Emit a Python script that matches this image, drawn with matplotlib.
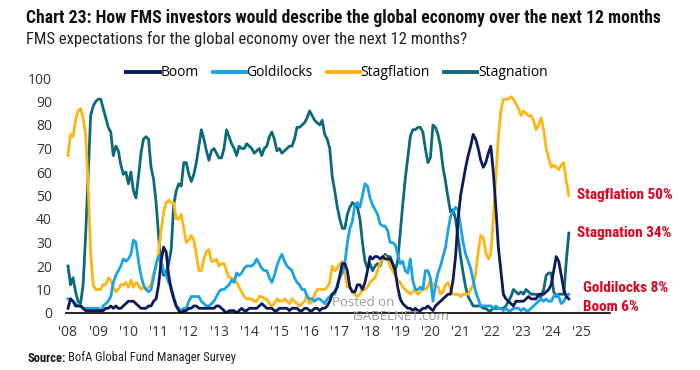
import matplotlib
matplotlib.use("Agg")
import matplotlib.pyplot as plt
import numpy as np
from matplotlib import font_manager

# monthly FMS readings (%), Jan 2008 .. Aug 2024
boom = [
    2, 6, 5, 3, 3, 3, 2, 1, 1, 1, 1, 1,
    1, 1, 1, 2, 2, 3, 2, 3, 2, 2, 3, 4,
    5, 5, 5, 4, 3, 2, 2, 2, 3, 3, 5, 6,
    12, 22, 28, 26, 16, 10, 6, 3, 1, 0, 1, 1,
    2, 2, 3, 3, 2, 2, 2, 2, 2, 2, 2, 3,
    3, 2, 1, 0, 1, 1, 1, 0, 1, 2, 1, 1,
    2, 2, 2, 2, 3, 4, 3, 2, 2, 2, 1, 1,
    2, 2, 2, 2, 1, 2, 2, 2, 1, 1, 2, 2,
    1, 1, 2, 2, 1, 2, 2, 3, 5, 8, 9, 11,
    16, 21, 21, 18, 11, 9, 9, 12, 12, 10, 13, 18,
    24, 23, 24, 24, 23, 24, 23, 23, 23, 21, 18, 11,
    6, 4, 3, 2, 2, 1, 2, 1, 1, 2, 2, 3,
    2, 1, 3, 4, 5, 6, 7, 8, 8, 14, 24, 40,
    50, 56, 62, 67, 71, 76, 74, 70, 65, 62, 64, 68,
    71, 60, 45, 28, 18, 8, 6, 5, 4, 3, 5, 5,
    5, 5, 6, 7, 6, 6, 6, 8, 8, 8, 9, 10,
    12, 18, 24, 22, 16, 10, 7, 6,
]
goldilocks = [
    6, 6, 5, 4, 3, 3, 2, 2, 2, 2, 2, 2,
    2, 1, 3, 4, 5, 7, 13, 16, 18, 20, 23, 22,
    23, 25, 31, 30, 22, 16, 12, 10, 9, 10, 15, 21,
    24, 22, 18, 16, 13, 11, 7, 3, 2, 1, 2, 2,
    5, 7, 7, 7, 7, 5, 4, 3, 3, 4, 5, 7,
    9, 10, 10, 11, 12, 14, 13, 17, 16, 17, 19, 20,
    20, 20, 21, 23, 21, 19, 18, 18, 15, 13, 16, 20,
    23, 25, 22, 20, 19, 18, 15, 13, 12, 10, 10, 7,
    6, 6, 5, 6, 6, 5, 4, 6, 7, 8, 8, 12,
    15, 17, 21, 30, 36, 39, 46, 47, 45, 50, 55, 54,
    49, 46, 44, 42, 38, 37, 37, 35, 30, 30, 29, 25,
    21, 22, 18, 17, 23, 14, 10, 10, 11, 10, 18, 18,
    15, 5, 12, 17, 20, 24, 28, 35, 41, 43, 45, 44,
    37, 30, 25, 22, 19, 14, 9, 6, 3, 3, 3, 3,
    3, 2, 3, 2, 2, 1, 2, 1, 1, 2, 2, 2,
    1, 2, 1, 1, 2, 3, 4, 5, 6, 5, 6, 5,
    5, 7, 8, 7, 4, 5, 7, 8,
]
stagflation = [
    67, 76, 75, 82, 86, 87, 83, 76, 55, 25, 12, 10,
    10, 10, 12, 12, 15, 14, 11, 9, 10, 12, 12, 13,
    11, 14, 11, 13, 12, 10, 11, 10, 11, 12, 17, 19,
    26, 35, 43, 47, 48, 47, 47, 40, 40, 42, 36, 30,
    31, 33, 31, 25, 18, 18, 23, 26, 27, 22, 22, 23,
    20, 21, 21, 18, 15, 15, 14, 13, 11, 9, 7, 6,
    6, 6, 5, 5, 7, 7, 6, 6, 4, 3, 4, 6,
    5, 5, 6, 5, 4, 6, 5, 4, 3, 4, 5, 8,
    4, 5, 8, 10, 10, 10, 10, 11, 13, 20, 18, 19,
    21, 22, 17, 11, 11, 9, 8, 7, 8, 10, 10, 11,
    13, 14, 15, 18, 21, 23, 24, 23, 20, 18, 16, 14,
    13, 11, 10, 9, 8, 9, 10, 8, 9, 11, 10, 11,
    14, 12, 12, 11, 8, 9, 12, 13, 10, 8, 8, 8,
    7, 8, 8, 8, 10, 12, 17, 26, 33, 32, 26, 23,
    25, 40, 58, 75, 86, 91, 91, 91, 92, 91, 89, 87,
    84, 86, 85, 84, 84, 82, 78, 80, 83, 78, 70, 66,
    62, 63, 62, 61, 63, 64, 56, 50,
]
stagnation = [
    20, 12, 15, 9, 5, 4, 12, 33, 58, 84, 88, 90,
    91, 91, 87, 83, 79, 77, 67, 71, 69, 63, 59, 60,
    55, 60, 52, 49, 58, 68, 74, 75, 74, 62, 57, 47,
    33, 20, 16, 17, 21, 27, 46, 52, 55, 54, 64, 64,
    59, 56, 59, 64, 71, 78, 74, 69, 65, 69, 70, 68,
    66, 66, 70, 78, 75, 72, 70, 67, 71, 70, 70, 72,
    71, 70, 68, 69, 70, 67, 70, 71, 75, 77, 74, 69,
    70, 68, 69, 70, 71, 71, 74, 79, 79, 80, 81, 83,
    86, 84, 82, 81, 80, 82, 76, 74, 70, 58, 52, 45,
    40, 36, 36, 42, 45, 47, 46, 45, 40, 30, 22, 19,
    21, 18, 20, 21, 20, 23, 25, 24, 24, 21, 18, 22,
    34, 46, 57, 66, 75, 78, 78, 79, 79, 77, 70, 64,
    66, 80, 79, 76, 71, 62, 56, 49, 43, 44, 40, 32,
    24, 17, 11, 7, 5, 3, 3, 3, 3, 2, 2, 1,
    1, 2, 2, 2, 2, 2, 3, 5, 7, 10, 9, 8,
    9, 8, 10, 9, 8, 8, 8, 7, 7, 10, 16, 17,
    17, 9, 7, 8, 8, 8, 22, 34,
]

series_names = ["Boom", "Goldilocks", "Stagflation", "Stagnation"]
series_colors = ["#0b1a5c", "#19a3e6", "#ffb612", "#0a6a7b"]
end_names = ["Boom", "Goldilocks", "Stagflation", "Stagnation"]
year_ticks = list(range(2008, 2026))
year_labels = ["'%02d" % (y % 100) for y in year_ticks]
y_ticks = list(range(0, 101, 10))
start_year = 2008

names = {f.name for f in font_manager.fontManager.ttflist}
body_font = "Open Sans" if "Open Sans" in names else "DejaVu Sans"
cond_font = body_font
for cand in ["Liberation Sans Narrow", "Roboto Condensed", "Open Sans Condensed"]:
    if cand in names:
        cond_font = cand
        break
plt.rcParams["font.family"] = body_font

W, H = 700, 370
fig = plt.figure(figsize=(W / 100, H / 100), dpi=100)


def px(x, y):
    return x / W, 1 - y / H


ax = fig.add_axes([66 / W, 57 / H, 544 / W, 235 / H])
series = [boom, goldilocks, stagflation, stagnation]
x = start_year + np.arange(len(boom)) / 12.0
# draw order: stagnation at back, boom near front like the original
for idx in [3, 2, 1, 0]:
    ax.plot(x, series[idx], color=series_colors[idx], lw=2.0,
            solid_joinstyle="round", label=series_names[idx])

ax.set_xlim(2008 - 2 / 30.2, 2008 + 542 / 30.2)
ax.set_ylim(0, 100)
ax.set_yticks(y_ticks)
ax.set_xticks(year_ticks)
ax.set_xticklabels(year_labels)
for s in ["top", "right", "left"]:
    ax.spines[s].set_visible(False)
ax.spines["bottom"].set_color("black")
ax.spines["bottom"].set_linewidth(1.2)
ax.tick_params(axis="both", length=0, labelsize=10, colors="#333333")
ax.tick_params(axis="y", pad=10)
ax.tick_params(axis="x", pad=9)
ax.set_facecolor("none")

handles, labels = ax.get_legend_handles_labels()
order = [labels.index(n) for n in series_names]
leg = fig.legend([handles[i] for i in order], [labels[i] for i in order],
                 loc="center", bbox_to_anchor=px(337, 73), ncol=4,
                 frameon=False, fontsize=10, handlelength=2.4,
                 handletextpad=0.05, columnspacing=1.0)
for line in leg.get_lines():
    line.set_linewidth(2.8)

# end-of-series labels
last = {n: s[-1] for n, s in zip(series_names, series)}
label_y = {"Stagflation": last["Stagflation"], "Stagnation": last["Stagnation"],
           "Goldilocks": 10.5, "Boom": 2.6}
label_x = {"Stagflation": 2024.85, "Stagnation": 2024.85,
           "Goldilocks": 2025.05, "Boom": 2025.05}
for n in end_names:
    ax.text(label_x[n], label_y[n], f"{n} {last[n]}%", color="#e3001b",
            fontsize=11, fontweight="bold", family=cond_font,
            ha="left", va="center", clip_on=False)

fig.text(*px(26, 18), "Chart 23: How FMS investors would describe the global economy over the next 12 months",
         fontsize=12.7, fontweight="bold", family=cond_font, color="#111111",
         ha="left", va="center")
fig.text(*px(26, 39), "FMS expectations for the global economy over the next 12 months?",
         fontsize=12, family=cond_font, color="#222222", ha="left", va="center")

# watermark
fig.text(*px(332, 302), "Posted on", fontsize=9.5, color="#9a9a9a",
         ha="left", va="center")
fig.text(*px(353, 317), "ISABELNET.com", fontsize=9.5, color="#9a9a9a",
         ha="left", va="center")

src = fig.text(*px(27, 358), "Source:", fontsize=9, fontweight="bold",
               family=cond_font, color="#111111", ha="left", va="center")
fig.canvas.draw()
bb = src.get_window_extent()
fig.text((bb.x1 + 3) / W, 1 - 358 / H, "BofA Global Fund Manager Survey",
         fontsize=9, family=cond_font, color="#222222", ha="left", va="center")

fig.savefig("out.png", dpi=100)
